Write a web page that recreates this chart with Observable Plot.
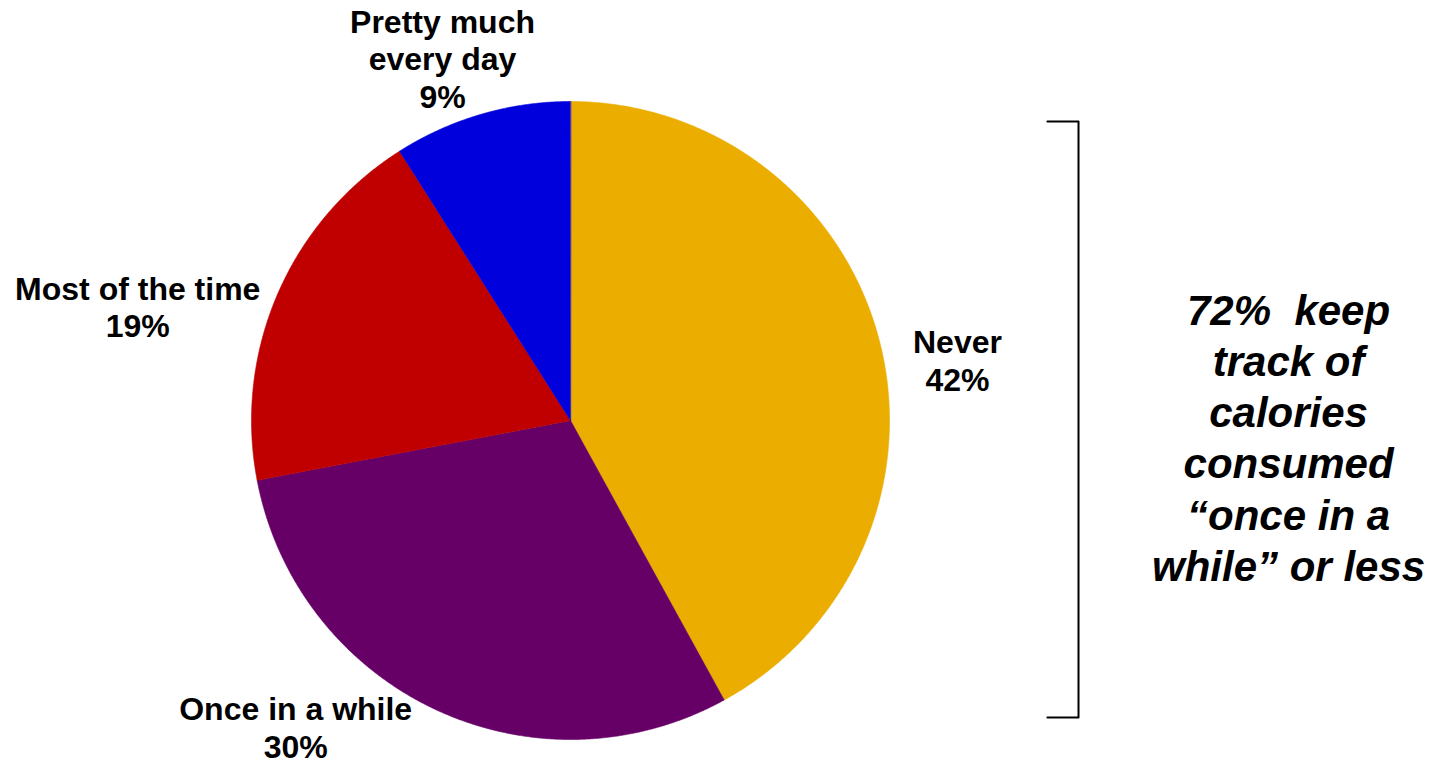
<!DOCTYPE html>
<html>
<head>
<meta charset="utf-8">
<script src="https://cdn.jsdelivr.net/npm/d3@7"></script>
<script src="https://cdn.jsdelivr.net/npm/@observablehq/plot@0.6"></script>
<style>
  body { margin: 0; background: #ffffff; }
  #chart svg { display: block; }
</style>
</head>
<body>
<div id="chart"></div>
<script>
// ---- data ----
const categories = ["Never", "Once in a while", "Most of the time", "Pretty much every day"];
const shares = [42, 30, 19, 9];
const colors = ["#EAAD00", "#660066", "#C00000", "#0000DC"];
const labelNames = ["Never", "Once in a while", "Most of the time", "Pretty much\nevery day"];
const noteLines = ["72%  keep", "track of", "calories", "consumed", "“once in a", "while” or less"];

// ---- layout (pixels) ----
const W = 1441, H = 762;
const cx = 570, cy = 420, R = 319;
// label nudges from the slice's mid-point on the rim (px)
const labelNudge = {
  "Never": [78, 19],
  "Once in a while": [-139, 18],
  "Most of the time": [-140, 13],
  "Pretty much every day": [-39, -56]
};

// ---- geometry from data ----
const arcs = d3.pie().sort(null).value(d => d)(shares);
const wedgePts = [];
arcs.forEach((a, i) => {
  const cat = categories[i];
  wedgePts.push({cat, x: 0, y: 0});
  const n = Math.max(2, Math.ceil((a.endAngle - a.startAngle) / (Math.PI / 720)));
  for (let k = 0; k <= n; k++) {
    const t = a.startAngle + (a.endAngle - a.startAngle) * k / n;
    wedgePts.push({cat, x: Math.sin(t), y: Math.cos(t)});
  }
});

const labels = arcs.map((a, i) => {
  const m = (a.startAngle + a.endAngle) / 2;
  const [dx, dy] = labelNudge[categories[i]];
  return {
    cat: categories[i],
    text: labelNames[i] + "\n" + shares[i] + "%",
    x: Math.sin(m) + dx / R,
    y: Math.cos(m) - dy / R
  };
});

// bracket spanning "Never" + "Once in a while"
const bx0 = 1.495, bx1 = 1.5925, btop = 0.937, bbot = -0.931;
const bracket = [
  {x: bx0, y: btop}, {x: bx1, y: btop}, {x: bx1, y: bbot}, {x: bx0, y: bbot}
];
const note = [{x: 2.251, y: -0.05, text: noteLines.join("\n")}];

const font = "'Liberation Sans', Arial, Helvetica, sans-serif";

const chart = Plot.plot({
  width: W,
  height: H,
  margin: 0,
  style: {background: "#ffffff", fontFamily: font},
  x: {domain: [-cx / R, (W - cx) / R], range: [0, W], axis: null},
  y: {domain: [(cy - H) / R, cy / R], range: [H, 0], axis: null},
  color: {domain: categories, range: colors},
  marks: [
    Plot.line(wedgePts, {
      x: "x", y: "y", z: "cat",
      fill: "cat", stroke: "cat", strokeWidth: 0.6,
      curve: "linear-closed"
    }),
    Plot.text(labels, {
      x: "x", y: "y", text: "text",
      fontSize: 32, fontWeight: "bold", fill: "#000",
      textAnchor: "middle", lineAnchor: "middle", lineHeight: 1.17,
      fontFamily: font
    }),
    Plot.line(bracket, {x: "x", y: "y", stroke: "#000", strokeWidth: 2}),
    Plot.text(note, {
      x: "x", y: "y", text: "text",
      fontSize: 42, fontWeight: "bold", fontStyle: "italic", fill: "#000",
      textAnchor: "middle", lineAnchor: "middle", lineHeight: 1.22,
      fontFamily: font
    })
  ]
});

document.getElementById("chart").appendChild(chart);
</script>
</body>
</html>
